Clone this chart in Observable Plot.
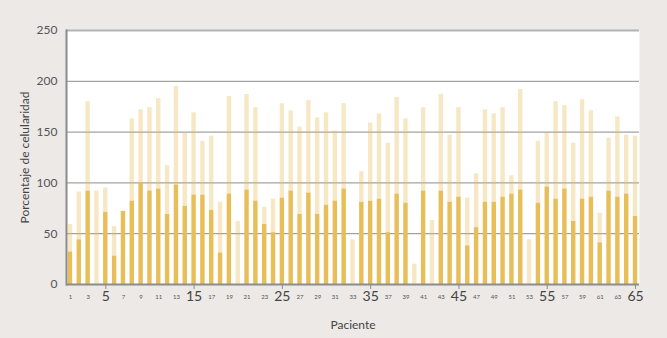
<!DOCTYPE html>
<html>
<head>
<meta charset="utf-8">
<script src="https://cdn.jsdelivr.net/npm/d3@7"></script>
<script src="https://cdn.jsdelivr.net/npm/@observablehq/plot@0.6"></script>
<style>
  html, body { margin: 0; padding: 0; background: #ece9e7; }
</style>
</head>
<body>
<div id="chart"></div>
<script>
const pacientes = [1,2,3,4,5,6,7,8,9,10,11,12,13,14,15,16,17,18,19,20,21,22,23,24,25,26,27,28,29,30,31,32,33,34,35,36,37,38,39,40,41,42,43,44,45,46,47,48,49,50,51,52,53,54,55,56,57,58,59,60,61,62,63,64,65];
// dark (lower) segment value
const inferior = [32,44,92,0,71,28,72,82,100,92,94,69,98,77,88,88,73,31,89,0,93,82,59,51,85,92,69,90,69,78,82,94,0,81,82,84,51,89,80,0,92,0,92,81,86,38,56,81,81,86,89,93,0,80,96,84,94,62,84,86,41,92,86,89,67];
// top of light segment (total)
const total = [59,91,180,92,95,57,72,163,172,174,183,117,195,149,169,141,146,81,185,62,187,174,76,84,178,171,155,181,164,169,151,178,44,111,159,168,139,184,163,20,174,63,187,147,174,85,109,172,168,174,107,192,44,141,149,180,176,139,182,171,70,144,165,147,146];
const yTicks = [0,50,100,150,200,250];
const gridTicks = [50,100,150,200];
const smallTicks = [1,3,7,9,11,13,17,19,21,23,27,29,31,33,37,39,41,43,47,49,51,53,57,59,61,63];
const bigTicks = [5,15,25,35,45,55,65];
const xLabel = "Paciente";
const yLabel = "Porcentaje de celularidad";

const rows = pacientes.map((p, i) => ({p, inferior: inferior[i], total: total[i]}));

const barColor = "#e7be58";
const gray = "#8c8c8c";

const chart = Plot.plot({
  width: 667,
  height: 338,
  marginLeft: 66,
  marginRight: 28,
  marginTop: 30,
  marginBottom: 54,
  style: {background: "#ece9e7", fontFamily: "Lato, sans-serif"},
  x: {type: "band", domain: pacientes, paddingInner: 0.5, paddingOuter: 0.2, axis: null},
  y: {domain: [0, 250], axis: null},
  marks: [
    Plot.frame({fill: "white", stroke: null}),
    Plot.gridY(gridTicks, {stroke: gray, strokeOpacity: 1, strokeWidth: 1}),
    Plot.gridY([250], {stroke: "#b3b3b3", strokeOpacity: 1, strokeWidth: 2}),
    Plot.barY(rows, {x: "p", y1: "inferior", y2: "total", fill: barColor, fillOpacity: 0.35}),
    Plot.barY(rows, {x: "p", y1: 0, y2: "inferior", fill: barColor}),
    Plot.ruleY([0], {stroke: gray, strokeWidth: 2}),
    Plot.frame({anchor: "left", stroke: gray, strokeWidth: 2}),
    Plot.axisY(yTicks, {tickSize: 0, tickPadding: 9, fontSize: 12, fill: "#555", label: null}),
    Plot.axisX(smallTicks, {tickSize: 0, tickPadding: 10, fontSize: 6, fill: "#555", label: null}),
    Plot.axisX(bigTicks, {tickSize: 5, tickPadding: 2, fontSize: 14, fill: "#444", stroke: gray, label: null}),
    Plot.text([xLabel], {text: d => d, frameAnchor: "bottom", dy: 41, lineAnchor: "middle", textAnchor: "middle", fontSize: 12, fill: "#444"}),
    Plot.text([yLabel], {text: d => d, frameAnchor: "left", dx: -41, rotate: -90, textAnchor: "middle", lineAnchor: "middle", fontSize: 12, fill: "#444"})
  ]
});
document.getElementById("chart").appendChild(chart);
</script>
</body>
</html>
